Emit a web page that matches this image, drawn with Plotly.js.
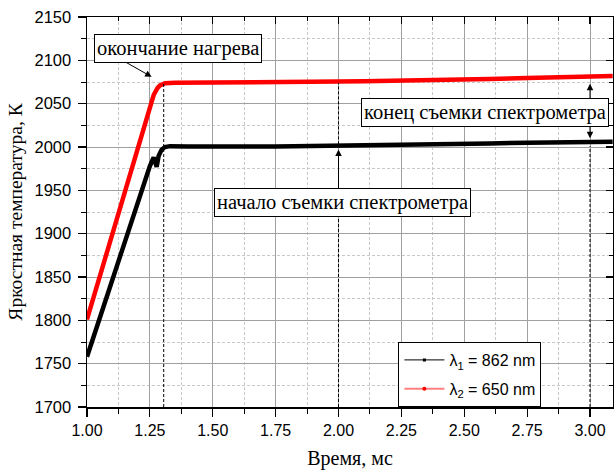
<!DOCTYPE html>
<html>
<head>
<meta charset="utf-8">
<script src="https://cdn.plot.ly/plotly-3.0.1.min.js"></script>
<style>html,body{margin:0;padding:0;background:#fff;}#chart{width:614px;height:470px;}</style>
</head>
<body>
<div id="chart"></div>
<script>
// λ1 = 862 nm (black)
const timeBlack = [1.00,1.05,1.10,1.15,1.20,1.25,1.265,1.277,1.285,1.297,1.31,1.33,1.40,1.50,1.60,1.75,1.90,2.00,2.10,2.25,2.40,2.50,2.60,2.75,2.90,3.00,3.09];
const tempBlack = [1758,1802,1846,1891,1935,1978,1988,1977,1990,1997,2000,2001,2000.5,2001,2000.5,2000.5,2001,2001.5,2001.5,2002,2002.5,2003,2004,2005,2005.5,2006,2006];
// λ2 = 650 nm (red)
const timeRed = [1.00,1.05,1.10,1.15,1.20,1.25,1.265,1.28,1.29,1.31,1.35,1.50,1.60,1.75,1.90,2.00,2.10,2.25,2.40,2.50,2.60,2.75,2.90,3.00,3.09];
const tempRed = [1801,1850,1899,1948,1997,2047,2060,2068,2071,2073.5,2074,2074.5,2074.5,2075,2075.5,2075.5,2076,2076.5,2077.5,2078,2078.5,2079.5,2080.5,2081.5,2082];
const legendNames = ['λ<sub>1</sub> = 862 nm','λ<sub>2</sub> = 650 nm'];
const xTitle = 'Время, мс';
const yTitle = 'Яркостная температура, К';
const noteHeat = 'окончание нагрева';
const noteStart = 'начало съемки спектрометра';
const noteEnd = 'конец съемки спектрометра';

const serif = 'Liberation Serif, Times New Roman, serif';
const sans = 'Liberation Sans, Arial, sans-serif';

const traces = [
  {x: timeBlack, y: tempBlack, mode:'lines', line:{color:'#000', width:4.5}, showlegend:false, hoverinfo:'skip'},
  {x: timeRed, y: tempRed, mode:'lines', line:{color:'#ff0000', width:4.5}, showlegend:false, hoverinfo:'skip'},
  {x:[null], y:[null], mode:'lines+markers', name: legendNames[0], legendgroup:'a', line:{color:'#000', width:1}, marker:{color:'#000', size:3, symbol:'square'}},
  {x:[null], y:[null], mode:'lines+markers', name: legendNames[1], legendgroup:'b', line:{color:'rgba(255,0,0,0.5)', width:2}, marker:{color:'#ff0000', size:4}}
];

const xr = [1.0, 3.0914];
const yr = [1700, 2150];
const dashLine = {color:'#000', width:1, dash:'3px,2px'};
const shapes = [
  {type:'line', xref:'x', yref:'y', x0:1.305, x1:1.305, y0:1700, y1:2073, line:dashLine, layer:'above'},
  {type:'line', xref:'x', yref:'y', x0:2.0, x1:2.0, y0:1700, y1:1936, line:dashLine, layer:'above'},
  {type:'line', xref:'x', yref:'y', x0:2.0, x1:2.0, y0:2003, y1:2074, line:dashLine, layer:'above'},
  {type:'line', xref:'x', yref:'y', x0:3.0, x1:3.0, y0:1700, y1:2001, line:dashLine, layer:'above'}
];

function arrow(x, y, ax, ay){
  return {x:x, y:y, ax:ax, ay:ay, xref:'x', yref:'y', axref:'x', ayref:'y', text:'', showarrow:true,
    arrowhead:2, arrowsize:1.3, arrowwidth:1, arrowcolor:'#000', standoff:0, startstandoff:0};
}
function box(x, y, text){
  return {x:x, y:y, xref:'x', yref:'y', text:text, showarrow:false, font:{family:serif, size:20.5, color:'#000'},
    bgcolor:'#fff', bordercolor:'#000', borderwidth:1, borderpad:2, xanchor:'center', yanchor:'middle'};
}
const annotations = [
  arrow(1.257, 2081, 1.138, 2100.5),
  arrow(2.0, 1997, 2.0, 1950),
  arrow(3.0, 2073, 3.0, 2054),
  arrow(3.0, 2010, 3.0, 2025),
  box(1.36, 2114, noteHeat),
  box(2.014, 1936, noteStart),
  box(2.582, 2040, noteEnd)
];

const layout = {
  width:614, height:470,
  margin:{l:87, r:1, t:17, b:63},
  paper_bgcolor:'#fff', plot_bgcolor:'#fff',
  showlegend:true,
  legend:{x:0.592, y:0.0, xanchor:'left', yanchor:'bottom', bgcolor:'#fff', bordercolor:'#000', borderwidth:1,
    font:{family:sans, size:16, color:'#000'}, itemwidth:40, tracegroupgap:5},
  xaxis:{range:xr, tick0:1, dtick:0.25, tickformat:'.2f', ticks:'outside', ticklen:8, tickwidth:1.2, tickcolor:'#000',
    showline:true, linecolor:'#000', linewidth:1.5, mirror:true, zeroline:false,
    showgrid:true, gridcolor:'#a0a0a0', gridwidth:1,
    tickfont:{family:sans, size:16, color:'#000'},
    title:{text:xTitle, font:{family:serif, size:20, color:'#000'}, standoff:13},
    minor:{dtick:0.125, tick0:1, ticks:'outside', ticklen:5, tickcolor:'#000', tickwidth:1, showgrid:true, gridcolor:'#c8c8c8', griddash:'3px,2px', gridwidth:1}},
  yaxis:{range:yr, tick0:1700, dtick:50, ticks:'outside', ticklen:8, tickwidth:1.2, tickcolor:'#000',
    showline:true, linecolor:'#000', linewidth:1.5, mirror:true, zeroline:false,
    showgrid:true, gridcolor:'#a0a0a0', gridwidth:1,
    tickfont:{family:sans, size:16.5, color:'#000'}, ticklabelstandoff:3,
    title:{text:yTitle, font:{family:serif, size:19.5, color:'#000'}, standoff:6},
    minor:{dtick:25, tick0:1700, ticks:'outside', ticklen:5, tickcolor:'#000', tickwidth:1, showgrid:true, gridcolor:'#c8c8c8', griddash:'3px,2px', gridwidth:1}},
  xaxis2:{overlaying:'x', side:'top', anchor:'y', range:xr, tick0:1, dtick:0.25, ticks:'inside', ticklen:7, tickcolor:'#000', tickwidth:1.2,
    showticklabels:false, showgrid:false, zeroline:false, showline:false,
    minor:{dtick:0.125, tick0:1, ticks:'inside', ticklen:4, tickcolor:'#000', tickwidth:1, showgrid:false}},
  yaxis2:{overlaying:'y', side:'right', anchor:'x', range:yr, tick0:1700, dtick:50, ticks:'inside', ticklen:7, tickcolor:'#000', tickwidth:1.2,
    showticklabels:false, showgrid:false, zeroline:false, showline:false,
    minor:{dtick:25, tick0:1700, ticks:'inside', ticklen:4, tickcolor:'#000', tickwidth:1, showgrid:false}},
  shapes:shapes,
  annotations:annotations
};
traces.push({x:[null], y:[null], xaxis:'x2', yaxis:'y2', showlegend:false, hoverinfo:'skip', mode:'lines'});
Plotly.newPlot('chart', traces, layout, {displayModeBar:false, staticPlot:true});
</script>
</body>
</html>
